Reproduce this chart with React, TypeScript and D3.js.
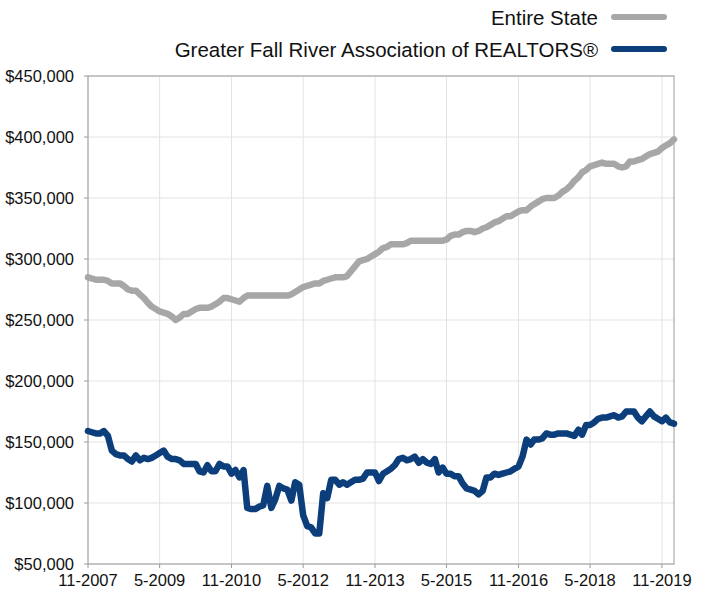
import * as d3 from 'd3';

// median sales price, thousands of dollars, monthly from 11-2007 to 2-2020
const stateValues = [
  285, 284, 283, 283, 283, 282, 280, 280, 280, 278, 275, 274, 274, 271, 268, 264, 261, 259, 257, 256,
  255, 253, 250, 252, 255, 255, 257, 259, 260, 260, 260, 261, 263, 265, 268, 268, 267, 266, 265, 268,
  270, 270, 270, 270, 270, 270, 270, 270, 270, 270, 270, 271, 273, 275, 277, 278, 279, 280, 280, 282,
  283, 284, 285, 285, 285, 286, 290, 294, 298, 299, 300, 302, 304, 306, 309, 310, 312, 312, 312, 312,
  313, 315, 315, 315, 315, 315, 315, 315, 315, 315, 316, 319, 320, 320, 322, 323, 323, 322, 323, 325,
  326, 328, 330, 331, 333, 335, 335, 337, 339, 340, 340, 343, 345, 347, 349, 350, 350, 350, 352, 355,
  357, 360, 364, 367, 371, 373, 376, 377, 378, 379, 378, 378, 378, 376, 375, 376, 380, 380, 381, 382,
  384, 386, 387, 388, 391, 393, 395, 398,
];

const fallRiverValues = [
  159, 158, 157, 157, 159, 155, 143, 140, 139, 139, 136, 134, 139, 135, 137, 136, 137, 139, 141, 143,
  138, 136, 136, 135, 132, 132, 132, 132, 126, 125, 131, 126, 126, 132, 130, 130, 124, 127, 121, 127,
  96, 95, 95, 97, 98, 114, 96, 103, 114, 112, 111, 102, 117, 115, 90, 81, 80, 75, 75, 108,
  104, 119, 119, 115, 117, 115, 117, 119, 119, 120, 125, 125, 125, 118, 124, 126, 128, 131, 136, 137,
  135, 136, 138, 133, 136, 133, 132, 136, 125, 129, 124, 124, 122, 122, 116, 112, 111, 110, 107, 110,
  121, 121, 124, 123, 124, 125, 126, 128, 130, 138, 152, 148, 152, 152, 153, 157, 156, 156, 157, 157,
  157, 156, 155, 160, 156, 164, 164, 166, 169, 170, 170, 171, 172, 170, 171, 175, 175, 175, 170, 167,
  171, 175, 171, 169, 167, 170, 166, 165,
];

const xTickLabels = ['11-2007', '5-2009', '11-2010', '5-2012', '11-2013', '5-2015', '11-2016', '5-2018', '11-2019'];
const yTicks = [50000, 100000, 150000, 200000, 250000, 300000, 350000, 400000, 450000];

const seriesNames = ['Entire State', 'Greater Fall River Association of REALTORS®'];
const seriesColors = ['#a7a7a7', '#0b3e7b'];

const W = 705;
const H = 592;
const left = 88, right = 674, top = 76, bottom = 564;

const parseTick = (s: string) => {
  const [m, y] = s.split('-').map(Number);
  return new Date(y, m - 1, 1);
};

const months = d3.timeMonth.range(new Date(2007, 10, 1), new Date(2020, 2, 1));

export default function App() {
  const x = d3.scaleTime().domain([months[0], months[months.length - 1]]).range([left, right]);
  const y = d3.scaleLinear().domain([50000, 450000]).range([bottom, top]);
  const fmt = d3.format(',');

  const line = d3
    .line<number>()
    .x((_, i) => x(months[i]))
    .y((d) => y(d * 1000));

  const font = '"Liberation Sans", Arial, Helvetica, sans-serif';

  return (
    <svg width={W} height={H} style={{ position: 'absolute', left: 0, top: 0, fontFamily: font }}>
      <rect width={W} height={H} fill="#fff" />
      {yTicks.map((t) => (
        <g key={t}>
          <line x1={left} x2={right} y1={y(t)} y2={y(t)} stroke="#e3e3e3" />
          <line x1={left - 4} x2={left} y1={y(t)} y2={y(t)} stroke="#9a9a9a" />
          <text x={74} y={y(t)} dy="0.36em" textAnchor="end" fontSize={16.5} fill="#111">
            ${fmt(t)}
          </text>
        </g>
      ))}
      {xTickLabels.map((s) => {
        const xp = x(parseTick(s));
        return (
          <g key={s}>
            <line x1={xp} x2={xp} y1={top} y2={bottom} stroke="#e3e3e3" />
            <line x1={xp} x2={xp} y1={bottom} y2={bottom + 4} stroke="#9a9a9a" />
            <text x={xp} y={586} textAnchor="middle" fontSize={16.5} fill="#111">
              {s}
            </text>
          </g>
        );
      })}
      <rect x={left} y={top} width={right - left} height={bottom - top} fill="none" stroke="#9a9a9a" />
      {[stateValues, fallRiverValues].map((vals, k) => (
        <path
          key={k}
          d={line(vals) || ''}
          fill="none"
          stroke={seriesColors[k]}
          strokeWidth={6.5}
          strokeLinejoin="round"
          strokeLinecap="round"
        />
      ))}
      {seriesNames.map((name, k) => {
        const ly = k === 0 ? 18 : 50;
        return (
          <g key={name}>
            <text x={598} y={ly} dy="0.36em" textAnchor="end" fontSize={20.5} fill="#111">
              {name}
            </text>
            <line x1={614} x2={664} y1={ly - 1} y2={ly - 1} stroke={seriesColors[k]} strokeWidth={6} strokeLinecap="round" />
          </g>
        );
      })}
    </svg>
  );
}
